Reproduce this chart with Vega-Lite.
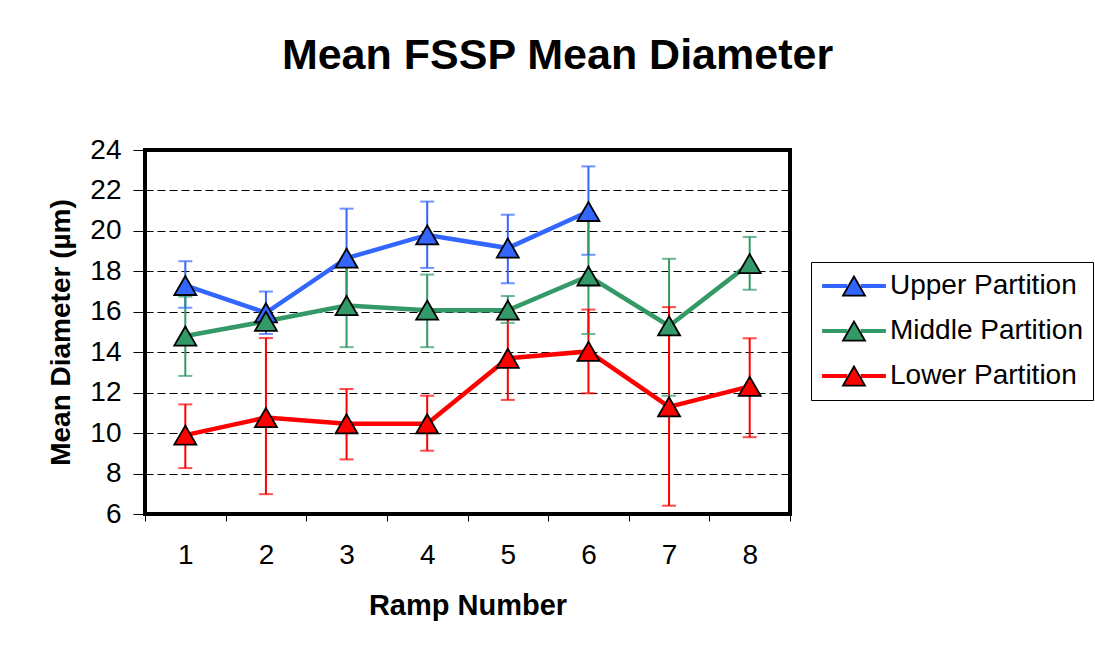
{
  "$schema": "https://vega.github.io/schema/vega-lite/v6.json",
  "width": 645,
  "height": 364,
  "autosize": {"type": "none"},
  "padding": {"left": 145, "top": 150, "right": 305, "bottom": 140},
  "background": "white",
  "title": {"text": "Mean FSSP Mean Diameter", "font": "Liberation Sans", "fontSize": 43, "fontWeight": "bold", "color": "black", "anchor": "middle", "frame": "group", "dx": 90, "offset": 24, "baseline": "alphabetic"},
  "config": {"view": {"stroke": "black", "strokeWidth": 4}, "font": "Liberation Sans"},
  "data": {"values": [
    {"series": "Upper Partition", "ramp": 1, "mean": 17.3, "lo": 16.2, "hi": 18.5},
    {"series": "Upper Partition", "ramp": 2, "mean": 15.95, "lo": 14.9, "hi": 17.0},
    {"series": "Upper Partition", "ramp": 3, "mean": 18.65, "lo": 16.2, "hi": 21.1},
    {"series": "Upper Partition", "ramp": 4, "mean": 19.8, "lo": 18.17, "hi": 21.45},
    {"series": "Upper Partition", "ramp": 5, "mean": 19.15, "lo": 17.41, "hi": 20.8},
    {"series": "Upper Partition", "ramp": 6, "mean": 20.96, "lo": 18.82, "hi": 23.19},
    {"series": "Middle Partition", "ramp": 1, "mean": 14.8, "lo": 12.83, "hi": 16.75},
    {"series": "Middle Partition", "ramp": 2, "mean": 15.53, "lo": 15.2, "hi": 15.85},
    {"series": "Middle Partition", "ramp": 3, "mean": 16.31, "lo": 14.25, "hi": 18.37},
    {"series": "Middle Partition", "ramp": 4, "mean": 16.08, "lo": 14.25, "hi": 17.84},
    {"series": "Middle Partition", "ramp": 5, "mean": 16.08, "lo": 15.45, "hi": 16.78},
    {"series": "Middle Partition", "ramp": 6, "mean": 17.77, "lo": 14.9, "hi": 20.64},
    {"series": "Middle Partition", "ramp": 7, "mean": 15.3, "lo": 11.85, "hi": 18.62},
    {"series": "Middle Partition", "ramp": 8, "mean": 18.38, "lo": 17.09, "hi": 19.7},
    {"series": "Lower Partition", "ramp": 1, "mean": 9.9, "lo": 8.27, "hi": 11.42},
    {"series": "Lower Partition", "ramp": 2, "mean": 10.77, "lo": 6.98, "hi": 14.7},
    {"series": "Lower Partition", "ramp": 3, "mean": 10.46, "lo": 8.7, "hi": 12.18},
    {"series": "Lower Partition", "ramp": 4, "mean": 10.46, "lo": 9.13, "hi": 11.85},
    {"series": "Lower Partition", "ramp": 5, "mean": 13.7, "lo": 11.64, "hi": 15.76},
    {"series": "Lower Partition", "ramp": 6, "mean": 14.04, "lo": 11.97, "hi": 16.11},
    {"series": "Lower Partition", "ramp": 7, "mean": 11.3, "lo": 6.41, "hi": 16.23},
    {"series": "Lower Partition", "ramp": 8, "mean": 12.31, "lo": 9.8, "hi": 14.69}
  ]},
  "encoding": {
    "x": {
      "field": "ramp", "type": "ordinal",
      "scale": {"type": "band", "paddingInner": 0, "paddingOuter": 0},
      "axis": {"title": "Ramp Number", "titleFont": "Liberation Sans", "titleFontSize": 29, "titleFontWeight": "bold", "titleColor": "black", "labelAngle": 0, "labelFont": "Liberation Sans", "labelFontSize": 28, "labelColor": "black", "tickBand": "extent", "tickColor": "black", "tickSize": 7, "tickWidth": 1, "domain": false, "labelPadding": 20, "titlePadding": 22, "grid": false}
    }
  },
  "layer": [
    {
      "mark": {"type": "rule", "strokeWidth": 2},
      "encoding": {
        "y": {"field": "lo", "type": "quantitative"},
        "y2": {"field": "hi"},
        "color": {"field": "series", "type": "nominal", "legend": null, "sort": "descending", "scale": {"range": ["#3366FF", "#339966", "#FF0000"]}}
      }
    },
    {
      "mark": {"type": "tick", "size": 14, "thickness": 2, "orient": "horizontal"},
      "encoding": {
        "y": {"field": "lo", "type": "quantitative"},
        "color": {"field": "series", "type": "nominal", "legend": null, "sort": "descending"}
      }
    },
    {
      "mark": {"type": "tick", "size": 14, "thickness": 2, "orient": "horizontal"},
      "encoding": {
        "y": {"field": "hi", "type": "quantitative"},
        "color": {"field": "series", "type": "nominal", "legend": null, "sort": "descending"}
      }
    },
    {
      "mark": {"type": "line", "strokeWidth": 4.5},
      "encoding": {
        "y": {"field": "mean", "type": "quantitative",
          "scale": {"domain": [6, 24], "nice": false, "zero": false},
          "axis": {"values": [6, 8, 10, 12, 14, 16, 18, 20, 22, 24], "title": "Mean Diameter (µm)", "titleFont": "Liberation Sans", "titleFontSize": 28, "titleFontWeight": "bold", "titleColor": "black", "labelFont": "Liberation Sans", "labelFontSize": 28, "labelColor": "black", "tickColor": "black", "tickSize": 12, "tickWidth": 1, "grid": true, "gridDash": [8, 4], "gridColor": "black", "gridWidth": 1, "domain": false, "labelPadding": 12, "titlePadding": 14}},
        "stroke": {"field": "series", "type": "nominal",
          "scale": {"domain": ["Upper Partition", "Middle Partition", "Lower Partition"], "range": ["#3366FF", "#339966", "#FF0000"]},
          "legend": {"orient": "none", "legendX": 666, "legendY": 112, "title": null, "symbolType": "M -2.9 0 L -0.6 0 M 0.6 0 L 2.9 0", "symbolSize": 484, "symbolStrokeWidth": 4, "symbolOffset": 19, "labelFont": "Liberation Sans", "labelFontSize": 28, "labelColor": "black", "labelOffset": 22, "labelLimit": 300, "strokeColor": "black", "padding": 10, "rowPadding": 17}}
      }
    },
    {
      "mark": {"type": "point", "shape": "triangle-up", "size": 484, "filled": true, "stroke": "black", "strokeWidth": 1.8, "opacity": 1},
      "encoding": {
        "y": {"field": "mean", "type": "quantitative"},
        "fill": {"field": "series", "type": "nominal", "sort": ["Upper Partition", "Middle Partition", "Lower Partition"],
          "scale": {"range": ["#3366FF", "#339966", "#FF0000"]},
          "legend": {"orient": "none", "legendX": 666, "legendY": 112, "title": null, "symbolType": "triangle-up", "symbolSize": 484, "symbolStrokeColor": "black", "symbolStrokeWidth": 1.8, "symbolOffset": 19, "labelFont": "Liberation Sans", "labelFontSize": 28, "labelExpr": "''", "padding": 10, "rowPadding": 17}}
      }
    }
  ]
}
